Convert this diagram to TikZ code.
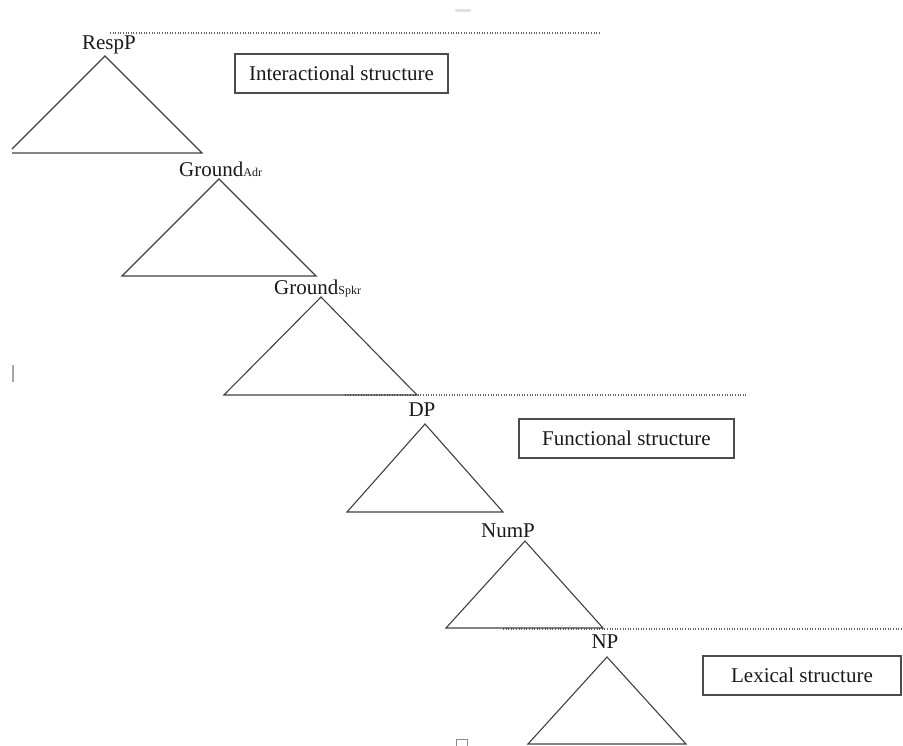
\documentclass[tikz,border=0pt]{standalone}
\usepackage{fontspec}
\setmainfont{Liberation Serif}
\newcommand{\subsm}[1]{{\fontsize{12}{12}\selectfont #1}}
\begin{document}
\begin{tikzpicture}[x=1pt,y=-1pt,
  lbl/.style={inner sep=0pt,font=\fontsize{21}{22}\selectfont,text=black!90},
  tri/.style={draw=black!75,line width=1.1pt,line join=miter},
  sep/.style={draw=black!60,line width=1.1pt,dash pattern=on 1pt off 1.6pt},
  strbox/.style={draw=black!70,line width=1.2pt,inner sep=0pt,font=\fontsize{21}{22}\selectfont,text=black!90},
  artifact/.style={draw=black!35,line width=1.2pt}]
\useasboundingbox (0,0) rectangle (903,745);
% separators
\coordinate (s1a) at (110,33); \coordinate (s1b) at (600,33);
\coordinate (s2a) at (345,395); \coordinate (s2b) at (748,395);
\coordinate (s3a) at (503,629); \coordinate (s3b) at (903,629);
\draw[sep] (s1a) -- (s1b);
\draw[sep] (s2a) -- (s2b);
\draw[sep] (s3a) -- (s3b);
% labels
\node[lbl] (resp) at (109,45) {RespP};
\node[lbl,anchor=base west] (gadr) at (179,176) {Ground\subsm{Adr}};
\node[lbl,anchor=base west] (gspkr) at (274,294) {Ground\subsm{Spkr}};
\node[lbl] (dp) at (422,410) {DP};
\node[lbl] (nump) at (508,531) {NumP};
\node[lbl] (np) at (605,642) {NP};
% triangles
\draw[tri] (12,149) -- (105,56) -- (202,153) -- (12,153);
\draw[tri] (219,179) -- (316,276) -- (122,276) -- cycle;
\draw[tri] (321,297) -- (417,395) -- (224,395) -- cycle;
\draw[tri] (425,424) -- (503,512) -- (347,512) -- cycle;
\draw[tri] (525,541) -- (603,628) -- (446,628) -- cycle;
\draw[tri] (607,657) -- (686,744) -- (528,744) -- cycle;
% boxes
\node[strbox,minimum width=213pt,minimum height=39pt] (inter) at (341.5,73.5) {Interactional structure};
\node[strbox,minimum width=215pt,minimum height=39pt] (func) at (626.5,438.5) {Functional structure};
\node[strbox,minimum width=198pt,minimum height=39pt] (lex) at (802,675.5) {Lexical structure};
% stray marks
\draw[artifact] (13,365) -- (13,382);
\draw[draw=black!45,line width=0.8pt] (456,747) -- (456,739) -- (467,739) -- (467,747);
\draw[draw=black!12,line width=3pt,line cap=round] (456,10) -- (470,10);
\end{tikzpicture}
\end{document}
